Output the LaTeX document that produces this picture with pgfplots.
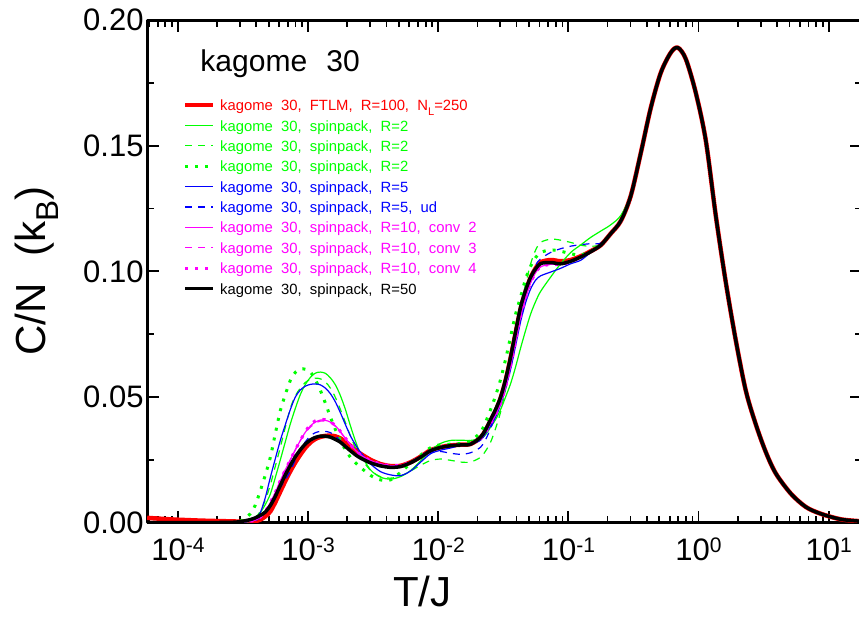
\documentclass[border=0pt]{standalone}
\usepackage{fontspec}
\setmainfont{Liberation Sans}[WordSpace=2.3]
\newfontfamily\legfont{Liberation Sans}[WordSpace=2.0]
\usepackage{graphicx}
\usepackage{pgfplots}
\pgfplotsset{compat=1.18}
\usepackage{pgfplotstable}
\usetikzlibrary{calc}

\definecolor{grn}{rgb}{0,1,0}
\definecolor{mag}{rgb}{1,0,1}
\definecolor{blu}{rgb}{0,0,1}
\definecolor{rd}{rgb}{1,0,0}
\newcommand{\tp}[1]{10\raisebox{7.5pt}{\fontsize{21}{24}\selectfont #1}}
\newcommand{\sub}[1]{\raisebox{-0.3em}{\scalebox{0.75}{#1}}}

% T  FTLM  R=2 (solid,dashed,dotted)  R=5 (solid,ud)  R=10 (conv2,3,4)  R=50
\pgfplotstableread{
T ftlm g2a g2b g2c b5 b5ud m2 m3 m4 r50
5.80e-5 0.0019 nan nan nan nan nan nan nan nan 0
8.72e-5 0.0013 nan nan nan nan nan nan nan nan 0
1.484e-4 0.0008 nan nan nan nan nan nan nan nan 0
2.525e-4 0.0005 0 0 0 0 0 0 0 0 0.0001
3.015e-4 0.0004 0.0001 0.0002 0.0005 0.0002 0.0002 0.0002 0.0002 0.0002 0.0004
3.599e-4 0.0004 0.0005 0.0008 0.0035 0.0006 0.0005 0.0006 0.0006 0.0006 0.0012
3.933e-4 0.0006 0.0015 0.0020 0.0070 0.0015 0.0008 0.0010 0.0010 0.0010 0.0019
4.295e-4 0.0012 0.0040 0.0045 0.0127 0.0040 0.0020 0.0022 0.0022 0.0022 0.0029
4.693e-4 0.0025 0.0072 0.0090 0.0190 0.0100 0.0045 0.0045 0.0045 0.0045 0.0042
5.129e-4 0.0045 0.0114 0.0150 0.0260 0.0180 0.0075 0.0080 0.0080 0.0080 0.0068
5.604e-4 0.0082 0.0180 0.0225 0.0355 0.0255 0.0105 0.0120 0.0120 0.0120 0.0105
6.120e-4 0.0124 0.0250 0.0300 0.0446 0.0327 0.0140 0.0167 0.0167 0.0167 0.0148
6.688e-4 0.0166 0.0322 0.0380 0.0510 0.0390 0.0170 0.0210 0.0210 0.0210 0.0190
7.305e-4 0.0205 0.0393 0.0455 0.0566 0.0450 0.0205 0.0250 0.0250 0.0250 0.0228
7.985e-4 0.0240 0.0455 0.0505 0.0598 0.0500 0.0250 0.0290 0.0290 0.0290 0.0262
8.724e-4 0.0271 0.0510 0.0535 0.0612 0.0528 0.0290 0.0327 0.0327 0.0327 0.0290
9.532e-4 0.0298 0.0550 0.0558 0.0610 0.0543 0.0322 0.0360 0.0358 0.0362 0.0313
1.0416e-3 0.0319 0.0578 0.0570 0.0599 0.0550 0.0345 0.0385 0.0380 0.0390 0.0329
1.1380e-3 0.0333 0.0595 0.0575 0.0568 0.0552 0.0358 0.0400 0.0396 0.0405 0.0339
1.2436e-3 0.0341 0.0599 0.0572 0.0526 0.0548 0.0363 0.0408 0.0404 0.0411 0.0344
1.3586e-3 0.0345 0.0594 0.0560 0.0475 0.0535 0.0363 0.0407 0.0404 0.0409 0.0344
1.4844e-3 0.0346 0.0576 0.0535 0.0420 0.0513 0.0358 0.0400 0.0398 0.0401 0.0340
1.6218e-3 0.0343 0.0548 0.0498 0.0370 0.0480 0.0345 0.0385 0.0383 0.0386 0.0331
1.7721e-3 0.0335 0.0505 0.0450 0.0327 0.0437 0.0325 0.0362 0.0360 0.0363 0.0320
1.9360e-3 0.0322 0.0450 0.0398 0.0290 0.0390 0.0305 0.0335 0.0334 0.0336 0.0303
2.1155e-3 0.0305 0.0385 0.0345 0.0260 0.0345 0.0285 0.0310 0.0310 0.0311 0.0286
2.3110e-3 0.0289 0.0325 0.0298 0.0238 0.0310 0.0268 0.0288 0.0288 0.0288 0.0270
2.5254e-3 0.0274 0.0275 0.0260 0.0220 0.0280 0.0254 0.0270 0.0270 0.0270 0.0257
3.0144e-3 0.0250 0.0210 0.0208 0.0188 0.0234 0.0234 0.0247 0.0247 0.0247 0.0238
3.599e-3 0.0233 0.0181 0.0183 0.0170 0.0203 0.0222 0.0234 0.0234 0.0234 0.0226
4.295e-3 0.0225 0.0173 0.0177 0.0170 0.0190 0.0218 0.0227 0.0227 0.0227 0.0220
5.129e-3 0.0226 0.0183 0.0185 0.0200 0.0187 0.0222 0.0228 0.0228 0.0228 0.0223
6.120e-3 0.0240 0.0207 0.0205 0.0235 0.0205 0.0240 0.0240 0.0240 0.0240 0.0238
7.305e-3 0.0262 0.0245 0.0228 0.0268 0.0240 0.0262 0.0262 0.0262 0.0262 0.0260
8.724e-3 0.0288 0.0287 0.0247 0.0298 0.0274 0.0280 0.0287 0.0287 0.0287 0.0286
1.0416e-2 0.0300 0.0315 0.0253 0.0310 0.0288 0.0283 0.0300 0.0300 0.0300 0.0299
1.2436e-2 0.0307 0.0327 0.0248 0.0312 0.0297 0.0276 0.0307 0.0307 0.0307 0.0306
1.4844e-2 0.0310 0.0328 0.0241 0.0315 0.0307 0.0272 0.0310 0.0310 0.0310 0.0309
1.7721e-2 0.0313 0.0327 0.0241 0.0325 0.0312 0.0278 0.0313 0.0313 0.0313 0.0312
2.1155e-2 0.0338 0.0335 0.0260 0.0360 0.0328 0.0300 0.0335 0.0335 0.0335 0.0340
2.311e-2 0.0368 0.0350 0.0285 0.0400 0.0355 0.0330 0.0360 0.0360 0.0360 0.0370
2.5254e-2 0.0405 0.0380 0.0320 0.0450 0.0385 0.0375 0.0395 0.0395 0.0395 0.0410
2.759e-2 0.0445 0.0410 0.0375 0.0505 0.0420 0.0425 0.0430 0.0430 0.0430 0.0450
3.0144e-2 0.0495 0.0450 0.0440 0.0570 0.0470 0.0480 0.0475 0.0475 0.0475 0.0499
3.293e-2 0.0565 0.0500 0.0530 0.0650 0.0535 0.0545 0.0540 0.0540 0.0540 0.0570
3.599e-2 0.0655 0.0553 0.0630 0.0740 0.0610 0.0625 0.0625 0.0625 0.0625 0.0659
3.933e-2 0.0755 0.0620 0.0740 0.0830 0.0705 0.0720 0.0720 0.0720 0.0720 0.0760
4.295e-2 0.0850 0.0695 0.0850 0.0898 0.0800 0.0815 0.0820 0.0820 0.0820 0.0858
4.693e-2 0.0920 0.0765 0.0950 0.0970 0.0875 0.0900 0.0895 0.0895 0.0895 0.0925
5.129e-2 0.0975 0.0830 0.1030 0.1020 0.0930 0.0975 0.0955 0.0955 0.0955 0.0977
5.604e-2 0.1012 0.0880 0.1085 0.1055 0.0965 0.1025 0.0995 0.0995 0.0995 0.1010
6.120e-2 0.1036 0.0920 0.1115 0.1075 0.0982 0.1050 0.1018 0.1018 0.1018 0.1031
7.305e-2 0.1045 0.0977 0.1128 0.1085 0.0997 0.1075 0.1028 0.1028 0.1028 0.1035
8.724e-2 0.1040 0.1030 0.1124 0.1080 0.1012 0.1090 0.1027 0.1027 0.1027 0.1030
0.10416 0.1045 0.1075 0.1115 0.1070 0.1030 0.1100 0.1038 0.1038 0.1038 0.1040
0.12436 0.1060 0.1105 0.1104 0.1065 0.1044 0.1106 0.1057 0.1057 0.1057 0.1057
0.14844 0.1080 0.1135 0.1100 0.1080 0.1075 0.1110 0.1078 0.1078 0.1078 0.1078
0.17721 0.1104 0.1160 0.1106 0.1104 0.1104 0.1112 0.1104 0.1104 0.1104 0.1104
0.21155 0.1150 0.1185 0.1150 0.1150 0.1150 0.1150 0.1150 0.1150 0.1150 0.1150
0.25254 0.1200 0.1222 0.1200 0.1200 0.1200 0.1200 0.1200 0.1200 0.1200 0.1200
0.30144 0.1300 0.1305 0.1300 0.1300 0.1300 0.1300 0.1300 0.1300 0.1300 0.1300
0.3599 0.1470 0.1470 0.1470 0.1470 0.1470 0.1470 0.1470 0.1470 0.1470 0.1470
0.4295 0.1650 nan nan nan nan nan nan nan nan 0.1650
0.5129 0.1790 nan nan nan nan nan nan nan nan 0.1790
0.6120 0.1870 nan nan nan nan nan nan nan nan 0.1870
0.6932 0.1890 nan nan nan nan nan nan nan nan 0.1890
0.7985 0.1845 nan nan nan nan nan nan nan nan 0.1845
0.9532 0.1710 nan nan nan nan nan nan nan nan 0.1710
1.1380 0.1520 nan nan nan nan nan nan nan nan 0.1520
1.3586 0.1220 nan nan nan nan nan nan nan nan 0.1220
1.6218 0.0955 nan nan nan nan nan nan nan nan 0.0955
1.9360 0.0724 nan nan nan nan nan nan nan nan 0.0724
2.3110 0.0524 nan nan nan nan nan nan nan nan 0.0524
2.759 0.0390 nan nan nan nan nan nan nan nan 0.0390
3.293 0.0280 nan nan nan nan nan nan nan nan 0.0280
3.933 0.0195 nan nan nan nan nan nan nan nan 0.0195
5.129 0.0115 nan nan nan nan nan nan nan nan 0.0115
6.688 0.0062 nan nan nan nan nan nan nan nan 0.0062
8.724 0.0035 nan nan nan nan nan nan nan nan 0.0035
12.436 0.0013 nan nan nan nan nan nan nan nan 0.0013
17.105 0.0006 nan nan nan nan nan nan nan nan 0.0006
}\cv

\begin{document}
\begin{tikzpicture}
\begin{axis}[
    name=ax,
    width=714pt, height=502pt, scale only axis,
    xmode=log,
    xmin=5.80e-5, xmax=18.04,
    ymin=0, ymax=0.2,
    axis line style={line width=3pt},
    every tick/.style={black, line width=1.8pt},
    major tick length=12pt, minor tick length=7pt,
    xtick={1e-4,1e-3,1e-2,1e-1,1,10},
    xticklabels={\tp{-4},\tp{-3},\tp{-2},\tp{-1},\tp{0},\tp{1}},
    minor xtick={6e-5,7e-5,8e-5,9e-5,
        2e-4,3e-4,4e-4,5e-4,6e-4,7e-4,8e-4,9e-4,
        2e-3,3e-3,4e-3,5e-3,6e-3,7e-3,8e-3,9e-3,
        2e-2,3e-2,4e-2,5e-2,6e-2,7e-2,8e-2,9e-2,
        0.2,0.3,0.4,0.5,0.6,0.7,0.8,0.9,
        2,3,4,5,6,7,8,9},
    ytick={0,0.05,0.1,0.15,0.2},
    yticklabels={0.00,0.05,0.10,0.15,0.20},
    minor ytick={0.025,0.075,0.125,0.175},
    tick label style={font=\fontsize{31}{36}\selectfont},
    xticklabel style={yshift=-12pt},
    xlabel={T/J},
    ylabel={C/N (k\sub{B})},
    label style={font=\fontsize{42}{48}\selectfont},
    xlabel style={at={(axis description cs:0.385,0)}, anchor=base, yshift=-84pt},
    ylabel style={at={(axis description cs:-0.154,0.5)}, anchor=center},
    legend image code/.code={\draw[#1] (0pt,0pt) -- (28pt,0pt);},
    legend cell align=left,
    legend style={at={(axis description cs:0.0504,0.8452)}, anchor=north west,
        draw=none, fill=none, inner sep=0pt,
        font=\legfont\fontsize{14.8}{18}\selectfont,
        nodes={inner sep=0pt}, row sep=6.26pt, column sep=4.7pt},
    line join=round,
]
\addplot[rd, line width=4.5pt, smooth,
    legend image code/.code={\draw[rd, line width=4pt] (0pt,0pt) -- (28pt,0pt);}]
    table[x=T, y=ftlm] {\cv};
\addlegendentry{\strut\textcolor{rd}{kagome 30, FTLM, R=100, N\sub{L}=250}}
\addplot[grn, line width=1.2pt, smooth] table[x=T, y=g2a] {\cv};
\addlegendentry{\strut\textcolor{grn}{kagome 30, spinpack, R=2}}
\addplot[grn, line width=1.2pt, dash pattern=on 7pt off 6pt, smooth] table[x=T, y=g2b] {\cv};
\addlegendentry{\strut\textcolor{grn}{kagome 30, spinpack, R=2}}
\addplot[grn, line width=3pt, dash pattern=on 3pt off 7pt, smooth] table[x=T, y=g2c] {\cv};
\addlegendentry{\strut\textcolor{grn}{kagome 30, spinpack, R=2}}
\addplot[blu, line width=1.2pt, smooth] table[x=T, y=b5] {\cv};
\addlegendentry{\strut\textcolor{blu}{kagome 30, spinpack, R=5}}
\addplot[blu, line width=1.2pt, dash pattern=on 7pt off 6pt, smooth] table[x=T, y=b5ud] {\cv};
\addlegendentry{\strut\textcolor{blu}{kagome 30, spinpack, R=5, ud}}
\addplot[mag, line width=1.2pt, smooth] table[x=T, y=m2] {\cv};
\addlegendentry{\strut\textcolor{mag}{kagome 30, spinpack, R=10, conv 2}}
\addplot[mag, line width=1.2pt, dash pattern=on 7pt off 6pt, smooth] table[x=T, y=m3] {\cv};
\addlegendentry{\strut\textcolor{mag}{kagome 30, spinpack, R=10, conv 3}}
\addplot[mag, line width=3pt, dash pattern=on 3pt off 7pt, smooth] table[x=T, y=m4] {\cv};
\addlegendentry{\strut\textcolor{mag}{kagome 30, spinpack, R=10, conv 4}}
\addplot[black, line width=3.5pt, smooth] table[x=T, y=r50] {\cv};
\addlegendentry{\strut kagome 30, spinpack, R=50}

\node[anchor=base west, inner sep=0pt, font=\fontsize{30}{36}\selectfont]
    at (axis description cs:0.0742,0.897) {kagome 30};
\end{axis}
\pgfresetboundingbox
\path ($(ax.south west)+(-147pt,-94pt)$) rectangle ($(ax.north west)+(711pt,20pt)$);
\end{tikzpicture}
\end{document}
